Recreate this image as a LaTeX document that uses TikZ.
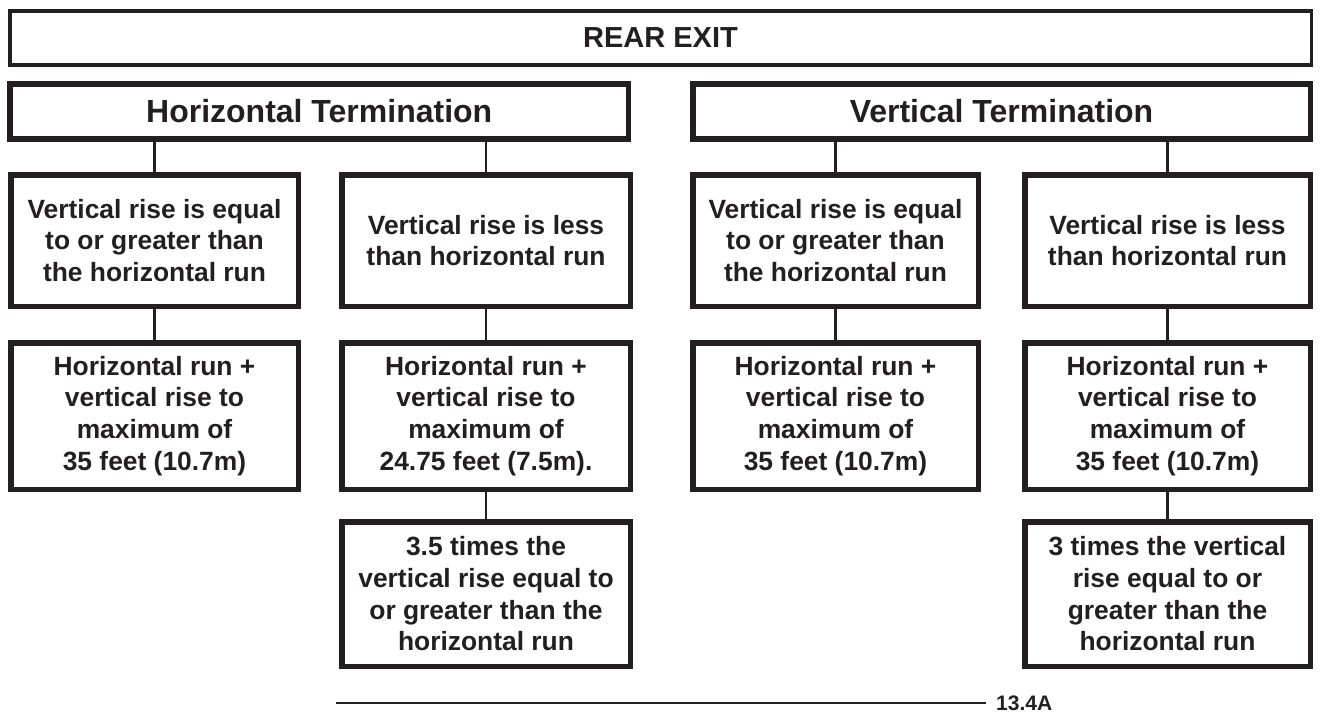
\documentclass[tikz,border=0pt]{standalone}
\usepackage{fontspec}
\setmainfont{Liberation Sans}
\definecolor{ink}{HTML}{231F20}
\begin{document}
\begin{tikzpicture}[x=1pt,y=-1pt,
  every node/.style={text=ink},
  hbox/.style={draw=ink, line width=5.5pt, inner sep=0pt, align=center,
     font=\fontsize{26.4pt}{31.7pt}\selectfont\bfseries},
  headbox/.style={draw=ink, line width=5.5pt, inner sep=0pt, align=center,
     minimum height=55.2pt, font=\fontsize{32pt}{36pt}\selectfont\bfseries},
  topbox/.style={draw=ink, line width=3.5pt, inner sep=0pt, align=center,
     font=\fontsize{29pt}{34pt}\selectfont\bfseries},
  rowone/.style={hbox, minimum height=131.5pt},
  rowtwo/.style={hbox, minimum height=146.5pt},
  rowthree/.style={hbox, minimum height=144.5pt},
  colA/.style={minimum width=287.5pt},
  colB/.style={minimum width=288.5pt},
  colC/.style={minimum width=285.5pt},
  colD/.style={minimum width=285.5pt},
  link/.style={draw=ink, line width=2.4pt}
]
\useasboundingbox (0,0) rectangle (1322,715);

% top
\node[topbox, minimum width=1301.5pt, minimum height=54pt] (rear) at (660.5,38) {REAR EXIT};
\node[headbox, minimum width=618.2pt] (ht) at (319.2,111.35) {Horizontal Termination};
\node[headbox, minimum width=617.5pt] (vt) at (1001.5,111.35) {Vertical Termination};

% row 1
\node[rowone, colA] (a1) at (154.5,240.5) {Vertical rise is equal\\to or greater than\\the horizontal run};
\node[rowone, colB] (b1) at (486,240.5) {Vertical rise is less\\than horizontal run};
\node[rowone, colC] (c1) at (835.5,240.5) {Vertical rise is equal\\to or greater than\\the horizontal run};
\node[rowone, colD] (d1) at (1167.5,240.5) {Vertical rise is less\\than horizontal run};

% row 2
\node[rowtwo, colA] (a2) at (154.5,416) {Horizontal run +\\vertical rise to\\maximum of\\35 feet (10.7m)};
\node[rowtwo, colB] (b2) at (486,416) {Horizontal run +\\vertical rise to\\maximum of\\24.75 feet (7.5m).};
\node[rowtwo, colC] (c2) at (835.5,416) {Horizontal run +\\vertical rise to\\maximum of\\35 feet (10.7m)};
\node[rowtwo, colD] (d2) at (1167.5,416) {Horizontal run +\\vertical rise to\\maximum of\\35 feet (10.7m)};

% row 3
\node[rowthree, colB] (b3) at (486,594) {3.5 times the\\vertical rise equal to\\or greater than the\\horizontal run};
\node[rowthree, colD] (d3) at (1167.5,594) {3 times the vertical\\rise equal to or\\greater than the\\horizontal run};

% connectors
\draw[link] (ht.south -| a1.north) -- (a1.north);
\draw[link] (ht.south -| b1.north) -- (b1.north);
\draw[link] (vt.south -| c1.north) -- (c1.north);
\draw[link] (vt.south -| d1.north) -- (d1.north);
\draw[link] (a1.south) -- (a2.north);
\draw[link] (b1.south) -- (b2.north);
\draw[link] (c1.south) -- (c2.north);
\draw[link] (d1.south) -- (d2.north);
\draw[link] (b2.south) -- (b3.north);
\draw[link] (d2.south) -- (d3.north);

% figure number
\node[anchor=west, inner sep=0pt, font=\fontsize{21pt}{24pt}\selectfont\bfseries] (fig) at (996,703) {13.4A};
\coordinate (lstart) at (336,703);
\coordinate (lend) at (986,703);
\draw[link] (lstart) -- (lend);
\end{tikzpicture}
\end{document}
